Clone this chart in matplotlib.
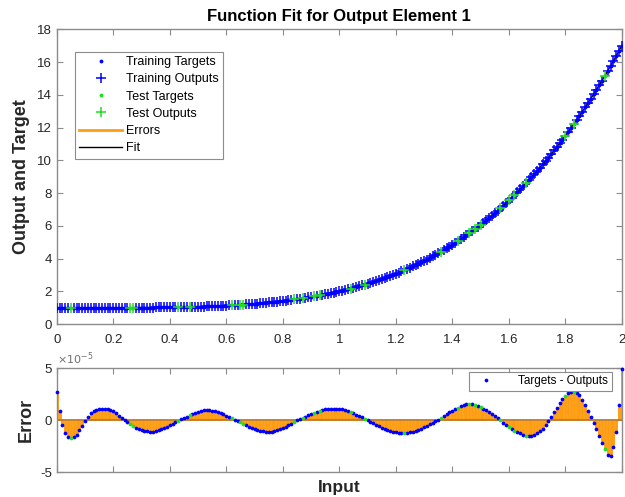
import numpy as np
import matplotlib
matplotlib.use("Agg")
import matplotlib.pyplot as plt
from matplotlib.ticker import FixedLocator, FixedFormatter
from matplotlib.lines import Line2D

# ---- data -------------------------------------------------------------
# network inputs: evenly spaced samples on [0, 2]
x_input = np.round(np.arange(201) * 0.01, 2)

# targets at each input
targets = [
    1.00, 1.00, 1.00, 1.00, 1.00, 1.00, 1.00, 1.00, 1.00, 1.00,
    1.00, 1.00, 1.00, 1.00, 1.00, 1.00, 1.00, 1.00, 1.00, 1.00,
    1.00, 1.00, 1.00, 1.00, 1.00, 1.00, 1.00, 1.01, 1.01, 1.01,
    1.01, 1.01, 1.01, 1.01, 1.01, 1.02, 1.02, 1.02, 1.02, 1.02,
    1.03, 1.03, 1.03, 1.03, 1.04, 1.04, 1.04, 1.05, 1.05, 1.06,
    1.06, 1.07, 1.07, 1.08, 1.09, 1.09, 1.10, 1.11, 1.11, 1.12,
    1.13, 1.14, 1.15, 1.16, 1.17, 1.18, 1.19, 1.20, 1.21, 1.23,
    1.24, 1.25, 1.27, 1.28, 1.30, 1.32, 1.33, 1.35, 1.37, 1.39,
    1.41, 1.43, 1.45, 1.47, 1.50, 1.52, 1.55, 1.57, 1.60, 1.63,
    1.66, 1.69, 1.72, 1.75, 1.78, 1.81, 1.85, 1.89, 1.92, 1.96,
    2.00, 2.04, 2.08, 2.13, 2.17, 2.22, 2.26, 2.31, 2.36, 2.41,
    2.46, 2.52, 2.57, 2.63, 2.69, 2.75, 2.81, 2.87, 2.94, 3.01,
    3.07, 3.14, 3.22, 3.29, 3.36, 3.44, 3.52, 3.60, 3.68, 3.77,
    3.86, 3.94, 4.04, 4.13, 4.22, 4.32, 4.42, 4.52, 4.63, 4.73,
    4.84, 4.95, 5.07, 5.18, 5.30, 5.42, 5.54, 5.67, 5.80, 5.93,
    6.06, 6.20, 6.34, 6.48, 6.62, 6.77, 6.92, 7.08, 7.23, 7.39,
    7.55, 7.72, 7.89, 8.06, 8.23, 8.41, 8.59, 8.78, 8.97, 9.16,
    9.35, 9.55, 9.75, 9.96, 10.17, 10.38, 10.60, 10.82, 11.04, 11.27,
    11.50, 11.73, 11.97, 12.22, 12.46, 12.71, 12.97, 13.23, 13.49, 13.76,
    14.03, 14.31, 14.59, 14.87, 15.16, 15.46, 15.76, 16.06, 16.37, 16.68,
    17.00,
]

# targets - outputs, in units of 1e-5
errors_e5 = [
    2.75, 0.90, -0.45, -1.20, -1.58, -1.72, -1.65, -1.40, -0.97, -0.55,
    -0.07, 0.30, 0.68, 0.90, 1.03, 1.10, 1.13, 1.13, 1.08, 0.98,
    0.85, 0.66, 0.44, 0.23, 0.02, -0.18, -0.38, -0.55, -0.70, -0.83,
    -0.94, -1.02, -1.07, -1.10, -1.09, -1.05, -0.98, -0.88, -0.75, -0.61,
    -0.47, -0.32, -0.18, -0.05, 0.08, 0.22, 0.36, 0.50, 0.62, 0.73,
    0.82, 0.90, 0.95, 0.97, 0.96, 0.92, 0.86, 0.78, 0.68, 0.57,
    0.45, 0.33, 0.20, 0.07, -0.06, -0.20, -0.35, -0.50, -0.63, -0.75,
    -0.86, -0.95, -1.02, -1.07, -1.10, -1.10, -1.08, -1.03, -0.95, -0.85,
    -0.73, -0.60, -0.46, -0.31, -0.16, -0.02, 0.10, 0.23, 0.36, 0.48,
    0.60, 0.71, 0.81, 0.90, 0.98, 1.04, 1.08, 1.11, 1.13, 1.13,
    1.12, 1.08, 1.02, 0.93, 0.82, 0.69, 0.55, 0.41, 0.27, 0.13,
    -0.01, -0.15, -0.30, -0.45, -0.59, -0.72, -0.84, -0.95, -1.04, -1.11,
    -1.16, -1.19, -1.20, -1.20, -1.18, -1.14, -1.08, -1.00, -0.91, -0.80,
    -0.67, -0.53, -0.38, -0.23, -0.08, 0.07, 0.24, 0.41, 0.58, 0.75,
    0.91, 1.06, 1.20, 1.33, 1.44, 1.52, 1.55, 1.53, 1.47, 1.38,
    1.27, 1.13, 0.97, 0.79, 0.60, 0.40, 0.20, -0.01, -0.22, -0.43,
    -0.63, -0.82, -0.99, -1.14, -1.27, -1.38, -1.47, -1.52, -1.50, -1.42,
    -1.27, -1.07, -0.81, -0.48, -0.10, 0.32, 0.76, 1.20, 1.62, 2.02,
    2.38, 2.62, 2.74, 2.75, 2.64, 2.40, 1.95, 1.45, 0.85, 0.30,
    -0.25, -0.85, -1.50, -2.15, -2.80, -3.30, -3.40, -2.60, -1.10, 1.50,
    4.95,
]

# inputs held out as the test set
test_inputs = [0.05, 0.26, 0.27, 0.43, 0.47, 0.62, 0.65, 0.66, 0.84, 0.87,
               0.91, 0.93, 1.04, 1.09, 1.23, 1.36, 1.42, 1.46, 1.48, 1.50,
               1.57, 1.60, 1.62, 1.66, 1.80, 1.83, 1.94]

x_ticks = [0, 0.2, 0.4, 0.6, 0.8, 1, 1.2, 1.4, 1.6, 1.8, 2]
x_ticklabels = ["0", "0.2", "0.4", "0.6", "0.8", "1", "1.2", "1.4", "1.6", "1.8", "2"]
y_ticks_top = [0, 2, 4, 6, 8, 10, 12, 14, 16, 18]
err_ticks_e5 = [-5, 0, 5]
err_ticklabels = ["-5", "0", "5"]

# ---- derived arrays ---------------------------------------------------
t = np.array(targets)
err = np.array(errors_e5) * 1e-5
out = t - err
is_test = np.isin(x_input, np.round(test_inputs, 2))
is_train = ~is_test

# ---- style ------------------------------------------------------------
plt.rcParams['font.family'] = ['Liberation Sans', 'DejaVu Sans']
plt.rcParams['axes.unicode_minus'] = False

BLUE = '#0000ff'
GREEN = '#22dd22'
ORANGE = '#ff9d12'
ZERO_LINE = '#c07a22'
SPINE = '#8c8c8c'
TEXT = '#262626'

fig = plt.figure(figsize=(6.25, 4.97), dpi=100)
ax1 = fig.add_axes([0.0909, 0.348, 0.904, 0.593])
ax2 = fig.add_axes([0.0909, 0.0497, 0.904, 0.2093])

for ax in (ax1, ax2):
    for s in ax.spines.values():
        s.set_color(SPINE)
        s.set_linewidth(1.0)
    ax.tick_params(direction='in', top=True, right=True, length=4,
                   width=0.8, color=SPINE, labelcolor=TEXT, labelsize=9.5)
    ax.set_xlim(0, 2)
    ax.xaxis.set_major_locator(FixedLocator(x_ticks))

# ---- top panel: targets, outputs, fit ---------------------------------
ax1.vlines(x_input, t, out, color=ORANGE, lw=1.5, zorder=1)
h_fit, = ax1.plot(x_input, out, '-', color='black', lw=1.0, zorder=2)
h_tt, = ax1.plot(x_input[is_train], t[is_train], '.', color=BLUE, ms=3.5, zorder=3)
h_to, = ax1.plot(x_input[is_train], out[is_train], '+', color=BLUE, ms=7, mew=1.1, zorder=3)
h_st, = ax1.plot(x_input[is_test], t[is_test], '.', color=GREEN, ms=3.5, zorder=4)
h_so, = ax1.plot(x_input[is_test], out[is_test], '+', color=GREEN, ms=7, mew=1.1, zorder=4)

ax1.set_ylim(0, 18)
ax1.set_yticks(y_ticks_top)
ax1.set_xticklabels(x_ticklabels)
ax1.tick_params(axis='x', pad=7)
ax1.set_title('Function Fit for Output Element 1', fontsize=12, fontweight='bold',
              color='black', pad=6)
ax1.set_ylabel('Output and Target', fontsize=13, fontweight='bold', color=TEXT, labelpad=5)

err_handle = Line2D([], [], color=ORANGE, lw=2)
leg1 = ax1.legend([h_tt, h_to, h_st, h_so, err_handle, h_fit],
                  ['Training Targets', 'Training Outputs', 'Test Targets',
                   'Test Outputs', 'Errors', 'Fit'],
                  loc='upper left', bbox_to_anchor=(0.032, 0.924), borderaxespad=0,
                  fontsize=9, fancybox=False, framealpha=1, edgecolor=SPINE,
                  handlelength=3.4, handletextpad=0.3, labelspacing=0.42,
                  borderpad=0.35, numpoints=1)
leg1.get_frame().set_linewidth(0.8)

# ---- bottom panel: errors ---------------------------------------------
ax2.vlines(x_input, 0, err, color=ORANGE, lw=2.1, zorder=1)
ax2.axhline(0, color=ZERO_LINE, lw=1.3, zorder=2)
h_dot, = ax2.plot(x_input[is_train], err[is_train], 'o', color=BLUE, ms=2.7,
                  mew=0, zorder=3, clip_on=False)
ax2.plot(x_input[is_test], err[is_test], 'o', color=GREEN, ms=2.7, mew=0, zorder=3,
         clip_on=False)

ax2.set_ylim(-5e-5, 5e-5)
ax2.yaxis.set_major_locator(FixedLocator(np.array(err_ticks_e5) * 1e-5))
ax2.yaxis.set_major_formatter(FixedFormatter(err_ticklabels))
ax2.text(0.0, 1.015, r'$\times10^{-5}$', transform=ax2.transAxes, fontsize=8,
         color='#707070', ha='left', va='bottom')
ax2.set_xticklabels([])
ax2.set_ylabel('Error', fontsize=13, fontweight='bold', color=TEXT, labelpad=4)
ax2.set_xlabel('Input', fontsize=12.5, fontweight='bold', color=TEXT, labelpad=2)

leg2 = ax2.legend([h_dot], ['Targets - Outputs'], loc='upper right',
                  bbox_to_anchor=(0.982, 0.967), borderaxespad=0, fontsize=8.5,
                  fancybox=False, framealpha=1, edgecolor=SPINE,
                  handlelength=2.4, handletextpad=1.5, borderpad=0.3,
                  numpoints=1)
leg2.get_frame().set_linewidth(0.8)

fig.savefig('out.png', dpi=100)
